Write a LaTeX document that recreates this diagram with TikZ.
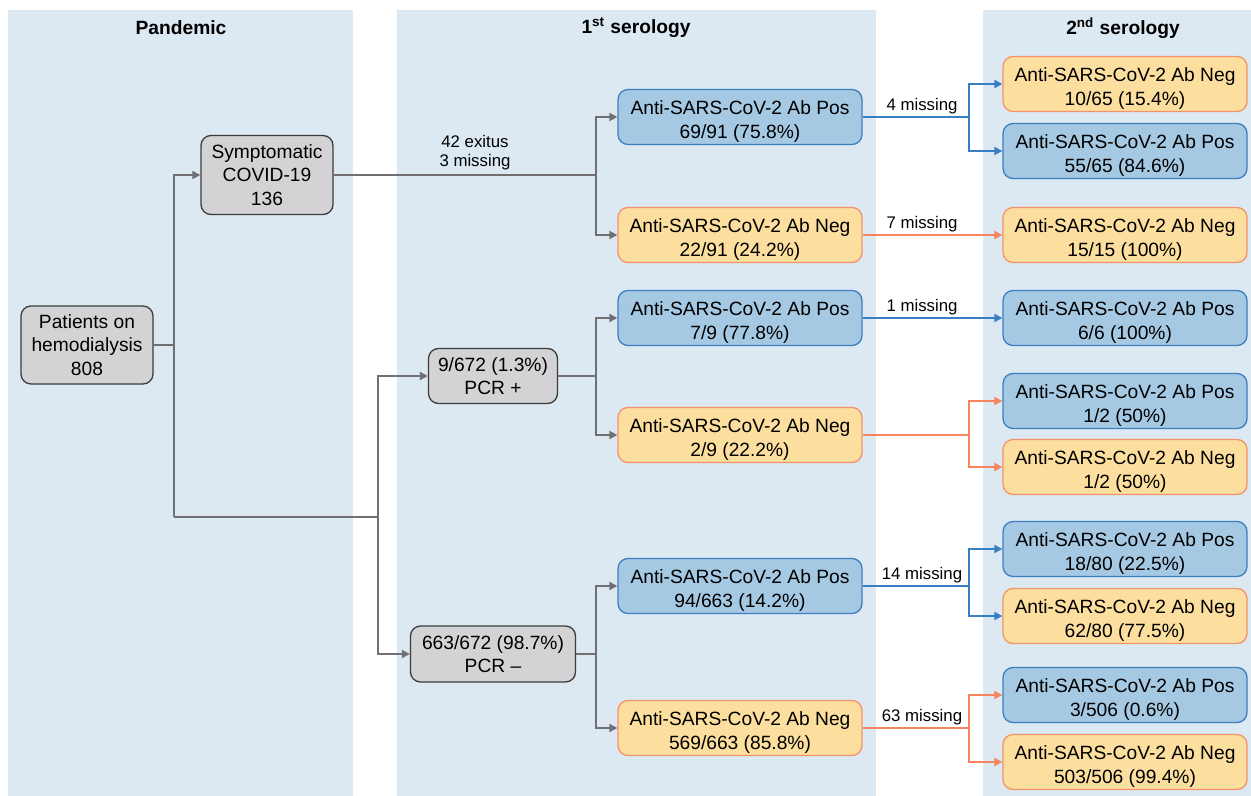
\documentclass[tikz,border=0pt]{standalone}
\usepackage{fontspec}
\setmainfont{Liberation Sans}
\usetikzlibrary{arrows.meta}
\definecolor{panel}{RGB}{220,233,243}
\definecolor{greyfill}{RGB}{211,211,213}
\definecolor{greyedge}{RGB}{60,60,60}
\definecolor{posfill}{RGB}{166,201,227}
\definecolor{posedge}{RGB}{61,126,192}
\definecolor{negfill}{RGB}{252,223,158}
\definecolor{negedge}{RGB}{245,146,106}
\definecolor{trunk}{RGB}{112,112,114}
\definecolor{posline}{RGB}{56,126,196}
\definecolor{negline}{RGB}{246,132,92}
\newcommand{\abstrut}{\rule{0pt}{11.4pt}}
\tikzset{
  box/.style={rounded corners=5pt, line width=0.65pt, align=center, inner sep=0pt,
              font=\fontsize{9.6}{11.6}\selectfont},
  gbox/.style={box, draw=greyedge, fill=greyfill},
  abbox/.style={box, minimum width=122pt, minimum height=27.5pt},
  pbox/.style={abbox, draw=posedge, fill=posfill},
  nbox/.style={abbox, draw=negedge, fill=negfill},
  tip/.style={-{Triangle[length=4pt,width=4pt]}},
  gline/.style={trunk, line width=1pt},
  garr/.style={gline, tip},
  parr/.style={posline, line width=1pt, tip},
  narr/.style={negline, line width=1pt, tip},
  coltitle/.style={font=\fontsize{9.6}{11.6}\selectfont\bfseries},
  miss/.style={font=\fontsize{8.4}{9.6}\selectfont, anchor=south, inner sep=1.2pt, align=center},
}
\begin{document}
\begin{tikzpicture}[x=0.5pt,y=-0.5pt]
  \useasboundingbox (0,0) rectangle (1251,796);
  % ---- columns ----
  \fill[panel] (8,10) rectangle (353,796);
  \fill[panel] (397,10) rectangle (876,796);
  \fill[panel] (983,10) rectangle (1251,796);
  \node[coltitle] (tpan) at (181,28) {Pandemic};
  \node[coltitle] (tfirst) at (636,28) {1\textsuperscript{st} serology};
  \node[coltitle] (tsecond) at (1123,28) {2\textsuperscript{nd} serology};

  % ---- pandemic ----
  \node[gbox, minimum width=66pt, minimum height=39pt] (pat) at (87,345) {Patients on\\hemodialysis\\808};
  \node[gbox, minimum width=66pt, minimum height=39.5pt] (sym) at (267,175) {Symptomatic\\COVID-19\\136};
  \node[gbox, minimum width=64.5pt, minimum height=27.5pt] (pcrp) at (493,376) {9/672 (1.3\%)\\PCR +};
  \node[gbox, minimum width=82.5pt, minimum height=28pt] (pcrn) at (493,654) {663/672 (98.7\%)\\PCR --};

  % ---- 1st serology ----
  \node[pbox] (pos1) at (740,117) {\abstrut Anti-SARS-CoV-2 Ab Pos\\69/91 (75.8\%)};
  \node[nbox] (neg1) at (740,235) {\abstrut Anti-SARS-CoV-2 Ab Neg\\22/91 (24.2\%)};
  \node[pbox] (pos2) at (740,318) {\abstrut Anti-SARS-CoV-2 Ab Pos\\7/9 (77.8\%)};
  \node[nbox] (neg2) at (740,435) {\abstrut Anti-SARS-CoV-2 Ab Neg\\2/9 (22.2\%)};
  \node[pbox] (pos3) at (740,586) {\abstrut Anti-SARS-CoV-2 Ab Pos\\94/663 (14.2\%)};
  \node[nbox] (neg3) at (740,728) {\abstrut Anti-SARS-CoV-2 Ab Neg\\569/663 (85.8\%)};

  % ---- 2nd serology ----
  \node[nbox] (a1) at (1125,84) {\abstrut Anti-SARS-CoV-2 Ab Neg\\10/65 (15.4\%)};
  \node[pbox] (a2) at (1125,151) {\abstrut Anti-SARS-CoV-2 Ab Pos\\55/65 (84.6\%)};
  \node[nbox] (b1) at (1125,235) {\abstrut Anti-SARS-CoV-2 Ab Neg\\15/15 (100\%)};
  \node[pbox] (c1) at (1125,318) {\abstrut Anti-SARS-CoV-2 Ab Pos\\6/6 (100\%)};
  \node[pbox] (d1) at (1125,401) {\abstrut Anti-SARS-CoV-2 Ab Pos\\1/2 (50\%)};
  \node[nbox] (d2) at (1125,467) {\abstrut Anti-SARS-CoV-2 Ab Neg\\1/2 (50\%)};
  \node[pbox] (e1) at (1125,549) {\abstrut Anti-SARS-CoV-2 Ab Pos\\18/80 (22.5\%)};
  \node[nbox] (e2) at (1125,616) {\abstrut Anti-SARS-CoV-2 Ab Neg\\62/80 (77.5\%)};
  \node[pbox] (f1) at (1125,695) {\abstrut Anti-SARS-CoV-2 Ab Pos\\3/506 (0.6\%)};
  \node[nbox] (f2) at (1125,762) {\abstrut Anti-SARS-CoV-2 Ab Neg\\503/506 (99.4\%)};

  % ---- junctions ----
  \coordinate (j0) at (174,517);
  \coordinate (j1) at (378,517);
  \coordinate (sx) at (596,0);
  \coordinate (bx) at (969,0);
  \coordinate (lx) at (922,0);

  % ---- grey tree ----
  \draw[gline] (pat.east) -- (pat.east -| j0);
  \draw[garr] (j0) |- (sym.west);
  \draw[gline] (j0) -- (j1);
  \draw[garr] (j1) |- (pcrp.west);
  \draw[garr] (j1) |- (pcrn.west);

  \draw[gline] (sym.east) -- (sym.east -| sx);
  \draw[garr] (sym.east -| sx) |- (pos1.west);
  \draw[garr] (sym.east -| sx) |- (neg1.west);
  \node[miss] (m0) at (475,173) {42 exitus\\3 missing};

  \draw[gline] (pcrp.east) -- (pcrp.east -| sx);
  \draw[garr] (pcrp.east -| sx) |- (pos2.west);
  \draw[garr] (pcrp.east -| sx) |- (neg2.west);

  \draw[gline] (pcrn.east) -- (pcrn.east -| sx);
  \draw[garr] (pcrn.east -| sx) |- (pos3.west);
  \draw[garr] (pcrn.east -| sx) |- (neg3.west);

  % ---- to 2nd serology ----
  \draw[parr] (pos1.east) -- (pos1.east -| bx) |- (a1.west);
  \draw[parr] (pos1.east -| bx) |- (a2.west);
  \node[miss] (m1) at (pos1.east -| lx) {4 missing};

  \draw[narr] (neg1.east) -- (b1.west);
  \node[miss] (m2) at (neg1.east -| lx) {7 missing};

  \draw[parr] (pos2.east) -- (c1.west);
  \node[miss] (m3) at (pos2.east -| lx) {1 missing};

  \draw[narr] (neg2.east) -- (neg2.east -| bx) |- (d1.west);
  \draw[narr] (neg2.east -| bx) |- (d2.west);

  \draw[parr] (pos3.east) -- (pos3.east -| bx) |- (e1.west);
  \draw[parr] (pos3.east -| bx) |- (e2.west);
  \node[miss] (m4) at (pos3.east -| lx) {14 missing};

  \draw[narr] (neg3.east) -- (neg3.east -| bx) |- (f1.west);
  \draw[narr] (neg3.east -| bx) |- (f2.west);
  \node[miss] (m5) at (neg3.east -| lx) {63 missing};
\end{tikzpicture}
\end{document}
